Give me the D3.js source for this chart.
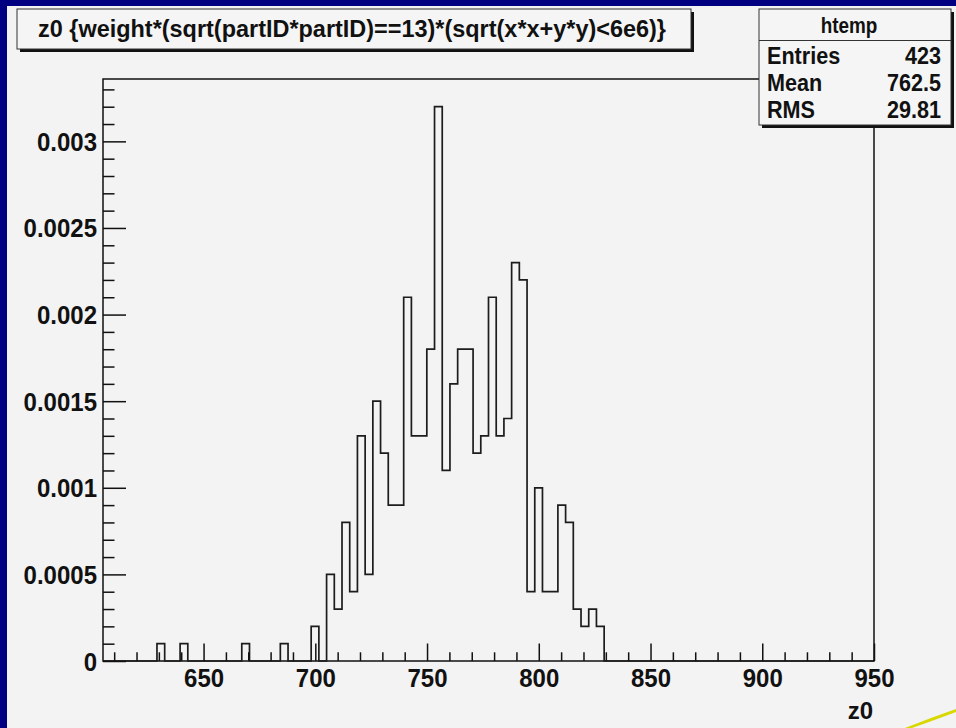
<!DOCTYPE html>
<html>
<head>
<meta charset="utf-8">
<script src="https://cdn.jsdelivr.net/npm/d3@7"></script>
<style>
  html, body { margin: 0; padding: 0; background: #000080; }
  svg { display: block; }
  text { font-family: "Liberation Sans", Arial, Helvetica, sans-serif; }
</style>
</head>
<body>
<svg id="chart" width="956" height="728"></svg>
<script>
// ---------------- data ----------------
const histTitle = "z0 {weight*(sqrt(partID*partID)==13)*(sqrt(x*x+y*y)<6e6)}";
const xAxisTitle = "z0";
const xLow = 605, xHigh = 950, nBins = 100;
// bin contents (100 bins from 605 to 950)
const binContents = [
  0, 0, 0, 0, 0, 0, 0, 0.0001, 0, 0,
  0.0001, 0, 0, 0, 0, 0, 0, 0, 0.0001, 0,
  0, 0, 0, 0.0001, 0, 0, 0, 0.0002, 0, 0.0005,
  0.0003, 0.0008, 0.0004, 0.0013, 0.0005, 0.0015, 0.0012, 0.0009, 0.0009, 0.0021,
  0.0013, 0.0013, 0.0018, 0.0032, 0.0011, 0.0016, 0.0018, 0.0018, 0.0012, 0.0013,
  0.0021, 0.0013, 0.0014, 0.0023, 0.0022, 0.0004, 0.0010, 0.0004, 0.0004, 0.0009,
  0.0008, 0.0003, 0.0002, 0.0003, 0.0002, 0, 0, 0, 0, 0,
  0, 0, 0, 0, 0, 0, 0, 0, 0, 0,
  0, 0, 0, 0, 0, 0, 0, 0, 0, 0,
  0, 0, 0, 0, 0, 0, 0, 0, 0, 0
];
const xMajorTicks = [650, 700, 750, 800, 850, 900, 950];
const xMinorTicks = [610, 620, 630, 640, 660, 670, 680, 690, 710, 720, 730, 740, 760, 770, 780, 790,
                     810, 820, 830, 840, 860, 870, 880, 890, 910, 920, 930, 940];
const yMajorTicks = [0, 0.0005, 0.001, 0.0015, 0.002, 0.0025, 0.003];
const yTickLabels = ["0", "0.0005", "0.001", "0.0015", "0.002", "0.0025", "0.003"];
const yMinorTicks = [0.0001, 0.0002, 0.0003, 0.0004, 0.0006, 0.0007, 0.0008, 0.0009,
                     0.0011, 0.0012, 0.0013, 0.0014, 0.0016, 0.0017, 0.0018, 0.0019,
                     0.0021, 0.0022, 0.0023, 0.0024, 0.0026, 0.0027, 0.0028, 0.0029,
                     0.0031, 0.0032, 0.0033];
const statsName = "htemp";
const statsLabels = ["Entries", "Mean", "RMS"];
const statsValues = ["423", "762.5", "29.81"];

// ---------------- layout ----------------
const svg = d3.select("#chart");
const frame = { left: 103, right: 874, top: 79, bottom: 661 };
const yMax = d3.max(binContents) * 1.05;

const x = d3.scaleLinear().domain([xLow, xHigh]).range([frame.left, frame.right]);
const y = d3.scaleLinear().domain([0, yMax]).range([frame.bottom, frame.top]);

const ink = "#111";
const paper = "#f3f3f3";

// condensed bold text helper
function ctext(px, py, str, size, anchor, sx) {
  return svg.append("text")
    .attr("transform", `translate(${px},${py}) scale(${sx},1)`)
    .attr("text-anchor", anchor).attr("fill", "#111")
    .style("font-size", size + "px").style("font-weight", "bold")
    .text(str);
}

// background panel
svg.append("rect").attr("x", 0).attr("y", 0).attr("width", 956).attr("height", 728).attr("fill", "#000080");
svg.append("rect").attr("x", 7).attr("y", 6).attr("width", 949).attr("height", 722).attr("fill", paper);

// yellow swoosh (slide decoration)
svg.append("path")
  .attr("d", "M905,728 Q930,718 956,709 L956,712 Q932,721 912,728 Z")
  .attr("fill", "#d8d800");

// frame
svg.append("rect")
  .attr("x", frame.left).attr("y", frame.top)
  .attr("width", frame.right - frame.left).attr("height", frame.bottom - frame.top)
  .attr("fill", "none").attr("stroke", ink).attr("stroke-width", 1.5);

// histogram (step outline)
const bw = (xHigh - xLow) / nBins;
const pts = [];
binContents.forEach((v, i) => {
  const lo = xLow + i * bw, hi = xLow + (i + 1) * bw;
  pts.push([lo, v], [hi, v]);
});
const line = d3.line().x(d => x(d[0])).y(d => y(d[1]));
svg.append("path").attr("d", line(pts))
  .attr("fill", "none").attr("stroke", "#1c1c1c").attr("stroke-width", 1.7)
  .attr("stroke-linejoin", "miter");

// x axis ticks (inside)
const xMajLen = 17.5, xMinLen = 8.7;
const xAxisMajor = d3.axisBottom(x).tickValues(xMajorTicks).tickSize(-xMajLen)
  .tickFormat(d3.format("d"));
const gx = svg.append("g").attr("transform", `translate(0,${frame.bottom})`).call(xAxisMajor);
const xAxisMinor = d3.axisBottom(x).tickValues(xMinorTicks).tickSize(-xMinLen).tickFormat("");
const gx2 = svg.append("g").attr("transform", `translate(0,${frame.bottom})`).call(xAxisMinor);
[gx, gx2].forEach(g => {
  g.select(".domain").remove();
  g.selectAll("line").attr("stroke", ink).attr("stroke-width", 1.5);
});
gx.selectAll("text")
  .attr("fill", "#111").style("font-size", "25px").style("font-weight", "bold")
  .attr("y", 26.5).attr("dy", 0).attr("transform", "scale(0.96,1)");

// y axis ticks (inside)
const yMajLen = 23, yMinLen = 11.5;
const yAxisMajor = d3.axisLeft(y).tickValues(yMajorTicks).tickSize(-yMajLen)
  .tickFormat((d, i) => yTickLabels[i]);
const gy = svg.append("g").attr("transform", `translate(${frame.left},0)`).call(yAxisMajor);
const yAxisMinor = d3.axisLeft(y).tickValues(yMinorTicks).tickSize(-yMinLen).tickFormat("");
const gy2 = svg.append("g").attr("transform", `translate(${frame.left},0)`).call(yAxisMinor);
[gy, gy2].forEach(g => {
  g.select(".domain").remove();
  g.selectAll("line").attr("stroke", ink).attr("stroke-width", 1.5);
});
gy.selectAll("text")
  .attr("fill", "#111").style("font-size", "25px").style("font-weight", "bold")
  .attr("x", -6).attr("dy", "0.36em").attr("transform", "translate(-6,0) scale(0.96,1)").attr("x", 0);

// x axis title
ctext(frame.right - 1, 719, xAxisTitle, 24, "end", 1);

// title box
const tb = { x: 17, y: 9, w: 674, h: 40 };
svg.append("rect").attr("x", tb.x + 3).attr("y", tb.y + 3).attr("width", tb.w).attr("height", tb.h).attr("fill", "#111");
svg.append("rect").attr("x", tb.x).attr("y", tb.y).attr("width", tb.w).attr("height", tb.h)
  .attr("fill", "#f5f5f5").attr("stroke", "#333").attr("stroke-width", 1);
svg.append("text").attr("x", 38).attr("y", 37)
  .attr("fill", "#111").style("font-size", "24px").style("font-weight", "bold")
  .attr("textLength", 628).attr("lengthAdjust", "spacingAndGlyphs")
  .text(histTitle);

// stats box
const sb = { x: 759, y: 9, w: 192, h: 116, head: 31.5 };
svg.append("rect").attr("x", sb.x + 3).attr("y", sb.y + 3).attr("width", sb.w).attr("height", sb.h).attr("fill", "#111");
svg.append("rect").attr("x", sb.x).attr("y", sb.y).attr("width", sb.w).attr("height", sb.h)
  .attr("fill", "#f5f5f5").attr("stroke", "#333").attr("stroke-width", 1);
svg.append("line").attr("x1", sb.x).attr("x2", sb.x + sb.w)
  .attr("y1", sb.y + sb.head).attr("y2", sb.y + sb.head).attr("stroke", "#333").attr("stroke-width", 1);
ctext(sb.x + sb.w / 2 - 6, 33, statsName, 22, "middle", 0.86);
const rowY = [64, 91, 118];
statsLabels.forEach((lab, i) => {
  ctext(767, rowY[i], lab, 24, "start", 0.9);
  ctext(941, rowY[i], statsValues[i], 24, "end", 0.9);
});
</script>
</body>
</html>
